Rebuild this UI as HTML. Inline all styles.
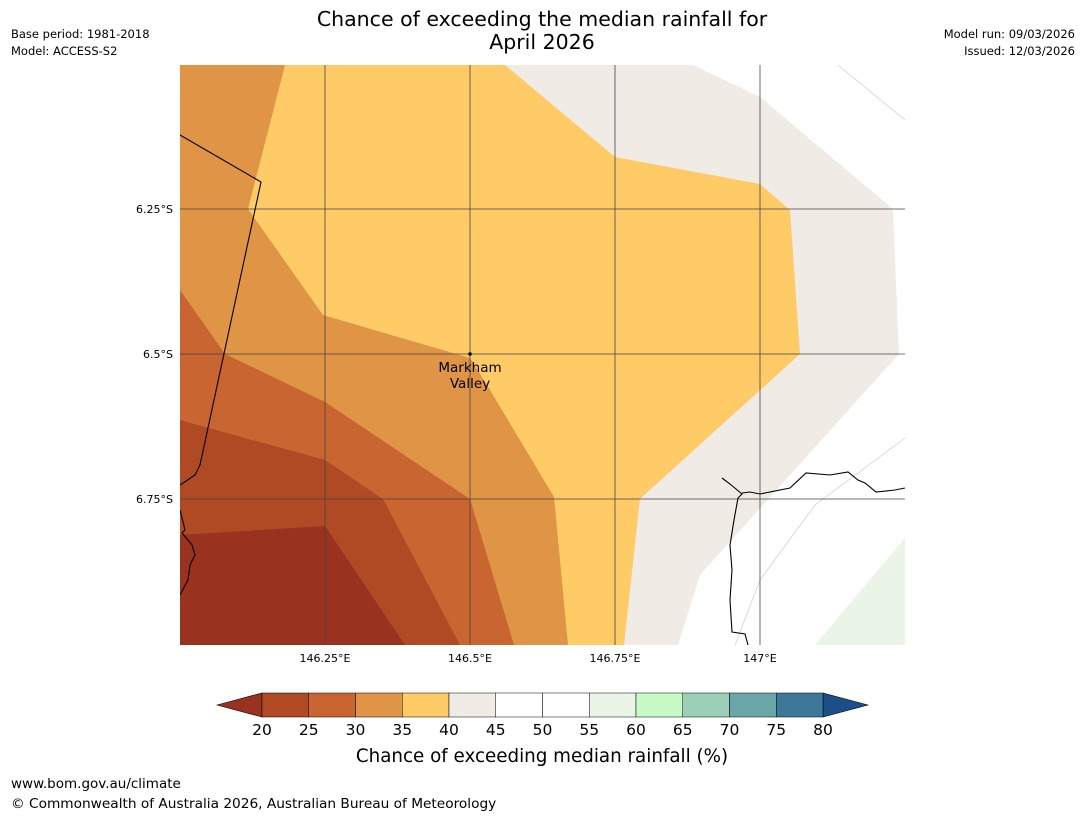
<!DOCTYPE html>
<html><head><meta charset="utf-8"><style>
body{margin:0;background:#fff;width:1085px;height:816px;overflow:hidden;font-family:"Liberation Sans","DejaVu Sans",sans-serif}
</style></head><body>
<svg width="1085" height="816" xmlns="http://www.w3.org/2000/svg" font-family="DejaVu Sans, Liberation Sans, sans-serif">
<text x="542" y="26" font-size="20.5" text-anchor="middle">Chance of exceeding the median rainfall for</text>
<text x="542" y="49" font-size="20.5" text-anchor="middle">April 2026</text>
<text x="11" y="38" font-size="11.5">Base period: 1981-2018</text>
<text x="11" y="55" font-size="11.5">Model: ACCESS-S2</text>
<text x="1075" y="38" font-size="11.5" text-anchor="end">Model run: 09/03/2026</text>
<text x="1075" y="55" font-size="11.5" text-anchor="end">Issued: 12/03/2026</text>
<defs><clipPath id="mc"><rect x="180" y="65" width="725" height="580"/></clipPath></defs>
<g clip-path="url(#mc)">
<rect x="180" y="65" width="725" height="580" fill="#fff"/>
<polygon fill="#f0ebe5" points="180,65 693,65 760,97 893,209 899,354 700,575 678,645 180,645"/>
<polygon fill="#eaf5e8" points="815,645 905,538 905,645"/>
<polygon fill="#fecb67" points="180,65 505,65 615,157 760,184 790,210 800,354 640,499 624,645 180,645"/>
<polygon fill="#e09445" points="180,65 285,65 248,209 323,315 470,358 490,390 554,497 568,645 180,645"/>
<polygon fill="#c96531" points="180,290 225,354 325,402 470,499 514,645 180,645"/>
<polygon fill="#b04a25" points="180,420 325,460 383,499 460,645 180,645"/>
<polygon fill="#9a3220" points="180,535 325,526 405,645 180,645"/>
<g stroke="#ccc" stroke-width="0.7" fill="none">
<polyline points="838,65 905,120"/><polyline points="905,438 815,505 760,580 735,645"/>
</g>
<g stroke="#444" stroke-width="0.8">
<line x1="325" y1="65" x2="325" y2="645"/><line x1="470" y1="65" x2="470" y2="645"/><line x1="615" y1="65" x2="615" y2="645"/><line x1="760" y1="65" x2="760" y2="645"/>
<line x1="180" y1="209" x2="905" y2="209"/><line x1="180" y1="354" x2="905" y2="354"/><line x1="180" y1="499" x2="905" y2="499"/>
</g>
<g stroke="#000" stroke-width="1.1" fill="none">
<polyline points="180,135 261,182 200,465 195,475 180,485"/>
<polyline points="180,510 183,522 185,530 182,533 192,545 195,555 190,565 188,580 180,595"/>
<polyline points="722,478 730,484 742,494 738,498 734,520 730,545 732,570 730,600 732,632 745,634 748,645"/>
<polyline points="742,493 750,492 760,494 790,488 806,473 830,475 848,472 858,480 865,483 876,492 895,490 905,488"/>
</g>
<circle cx="470" cy="354" r="1.8" fill="#000"/>
<text x="470" y="372" font-size="13.5" text-anchor="middle">Markham</text>
<text x="470" y="388" font-size="13.5" text-anchor="middle">Valley</text>
</g>
<g font-size="11">
<text x="173" y="213" text-anchor="end">6.25°S</text><text x="173" y="358" text-anchor="end">6.5°S</text><text x="173" y="503" text-anchor="end">6.75°S</text>
<text x="325" y="662" text-anchor="middle">146.25°E</text><text x="470" y="662" text-anchor="middle">146.5°E</text><text x="615" y="662" text-anchor="middle">146.75°E</text><text x="760" y="662" text-anchor="middle">147°E</text>
</g>
<g id="cb"></g>
<text x="542" y="762" font-size="18.3" text-anchor="middle">Chance of exceeding median rainfall (%)</text>
<text x="11" y="788" font-size="13.5">www.bom.gov.au/climate</text>
<text x="11" y="808" font-size="13.7">© Commonwealth of Australia 2026, Australian Bureau of Meteorology</text>
</svg>
<script>
const cbTicks=[20,25,30,35,40,45,50,55,60,65,70,75,80];
const cbColors=["#b04a25","#c96531","#e09445","#fecb67","#f0ebe5","#ffffff","#ffffff","#eaf5e8","#c8fac8","#9ccfb8","#6aa5a8","#3e7898"];
const g=document.getElementById('cb');const NS="http://www.w3.org/2000/svg";
const x0=262,x1=823,y0=693,h=24;const w=(x1-x0)/cbColors.length;
function mk(t,a){const e=document.createElementNS(NS,t);for(const k in a)e.setAttribute(k,a[k]);g.appendChild(e);return e;}
let lt=mk('polygon',{points:`217,${y0+h/2} ${x0},${y0} ${x0},${y0+h}`,fill:'#9a3220',stroke:'#000','stroke-width':0.6});


let rt=mk('polygon',{points:`868,${y0+h/2} ${x1},${y0} ${x1},${y0+h}`,fill:'#1a4f88',stroke:'#000','stroke-width':0.6});


cbColors.forEach((c,i)=>{const r=mk('rect',{x:x0+i*w,y:y0,width:w,height:h,fill:c,stroke:'#000','stroke-width':0.5});

});
cbTicks.forEach((t,i)=>{const e=mk('text',{x:x0+i*w,y:735,'font-size':15.5,'text-anchor':'middle'});e.textContent=t;

});
</script>
</body></html>
